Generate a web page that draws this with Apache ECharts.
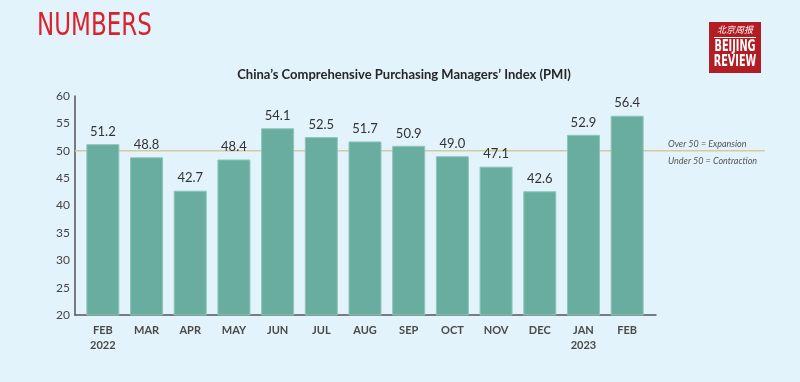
<!DOCTYPE html>
<html>
<head>
<meta charset="utf-8">
<script src="https://cdn.jsdelivr.net/npm/echarts@6/dist/echarts.min.js"></script>
<style>
html,body{margin:0;padding:0;background:#e2f3fb;}
#chart{width:800px;height:382px;}
</style>
</head>
<body>
<div id="chart"></div>
<script>
const categories = ['FEB\n2022','MAR','APR','MAY','JUN','JUL','AUG','SEP','OCT','NOV','DEC','JAN\n2023','FEB'];
const pmiValues = [51.2, 48.8, 42.7, 48.4, 54.1, 52.5, 51.7, 50.9, 49.0, 47.1, 42.6, 52.9, 56.4];
const yTicks = {min: 20, max: 60, interval: 5};
const threshold = 50;
const titleText = "China\u2019s Comprehensive Purchasing Managers\u2019 Index (PMI)";

const chart = echarts.init(document.getElementById('chart'), null, {renderer: 'canvas'});
const gTop = 96, gHeight = 219;
const condensed = '"Liberation Sans Narrow", "DejaVu Sans Condensed", "Liberation Sans", sans-serif';
chart.setOption({
  backgroundColor: '#e2f3fb',
  animation: false,
  title: {
    text: titleText,
    left: 399, top: 63, textAlign: 'center',
    textStyle: {fontFamily: 'Lato, "Open Sans", sans-serif', fontWeight: 'bold', fontSize: 13, color: '#262626'}
  },
  grid: [
    {left: 81, width: 568, top: gTop, height: gHeight},
    {left: 75, width: 581, top: gTop, height: gHeight},
    {left: 75, right: 35, top: gTop, height: gHeight}
  ],
  xAxis: [
    {gridIndex: 0, type: 'category', data: categories,
     axisLine: {show: false}, axisTick: {show: false},
     axisLabel: {margin: 8, fontSize: 11, fontWeight: 'bold', color: '#4a4a4a', lineHeight: 15,
                 fontFamily: 'Lato, "Open Sans", sans-serif'}},
    {gridIndex: 1, type: 'value', min: 0, max: 1,
     axisLine: {show: true, onZero: false, lineStyle: {color: '#555', width: 1.5}},
     axisTick: {show: false}, axisLabel: {show: false}, splitLine: {show: false}},
    {gridIndex: 2, type: 'value', min: 0, max: 1, show: false}
  ],
  yAxis: [
    {gridIndex: 0, type: 'value', min: yTicks.min, max: yTicks.max, interval: yTicks.interval, show: false},
    {gridIndex: 1, type: 'value', min: yTicks.min, max: yTicks.max, interval: yTicks.interval,
     axisLine: {show: true, lineStyle: {color: '#555', width: 1.5}},
     axisTick: {show: false}, splitLine: {show: false},
     axisLabel: {margin: 5, fontSize: 12, color: '#444', fontFamily: 'Lato, "Open Sans", sans-serif'}},
    {gridIndex: 2, type: 'value', min: yTicks.min, max: yTicks.max, show: false}
  ],
  series: [
    {type: 'line', xAxisIndex: 2, yAxisIndex: 2,
     data: [[0, threshold], [1, threshold]], symbol: 'none', silent: true, z: 1,
     lineStyle: {color: '#d5c9a2', width: 1.5}},
    {type: 'bar', xAxisIndex: 0, yAxisIndex: 0, data: pmiValues, barWidth: 33, z: 2,
     itemStyle: {color: '#68ad9f', borderColor: '#8ec5b8', borderWidth: 1},
     label: {show: true, position: 'top', distance: 6, fontSize: 13, color: '#333',
             fontFamily: 'Lato, "Open Sans", sans-serif',
             formatter: p => p.value.toFixed(1)}}
  ],
  graphic: [
    {type: 'text', x: 37, y: 11, scaleX: 0.8, originX: 0, originY: 0,
     style: {text: 'NUMBERS', fontSize: 32, fontFamily: condensed, fill: '#d8232d'}},
    {type: 'text', left: 668, top: 140,
     style: {text: 'Over 50 = Expansion', fontSize: 9, fontStyle: 'italic', fill: '#555',
             fontFamily: 'Lato, "Open Sans", sans-serif'}},
    {type: 'text', left: 668, top: 157,
     style: {text: 'Under 50 = Contraction', fontSize: 9, fontStyle: 'italic', fill: '#555',
             fontFamily: 'Lato, "Open Sans", sans-serif'}},
    {type: 'group', x: 709, y: 22, children: [
      {type: 'rect', shape: {x: 0, y: 0, width: 52, height: 51}, style: {fill: '#b11d23'}},
      {type: 'text', x: 26, y: 3, style: {text: '北京周报', fontSize: 9, fontStyle: 'italic', fill: '#fff', align: 'center',
              fontFamily: '"Noto Sans CJK SC", sans-serif'}},
      {type: 'rect', shape: {x: 5, y: 15, width: 42, height: 1}, style: {fill: '#fff'}},
      {type: 'group', x: 26, y: 18, scaleX: 0.72, children: [
        {type: 'text', x: 0, y: 0,
         style: {text: 'BEIJING', fontSize: 15, fontWeight: 'bold', fill: '#fff', align: 'center', fontFamily: condensed}}
      ]},
      {type: 'group', x: 26, y: 33, scaleX: 0.72, children: [
        {type: 'text', x: 0, y: 0,
         style: {text: 'REVIEW', fontSize: 15, fontWeight: 'bold', fill: '#fff', align: 'center', fontFamily: condensed}}
      ]}
    ]}
  ]
});
</script>
</body>
</html>
